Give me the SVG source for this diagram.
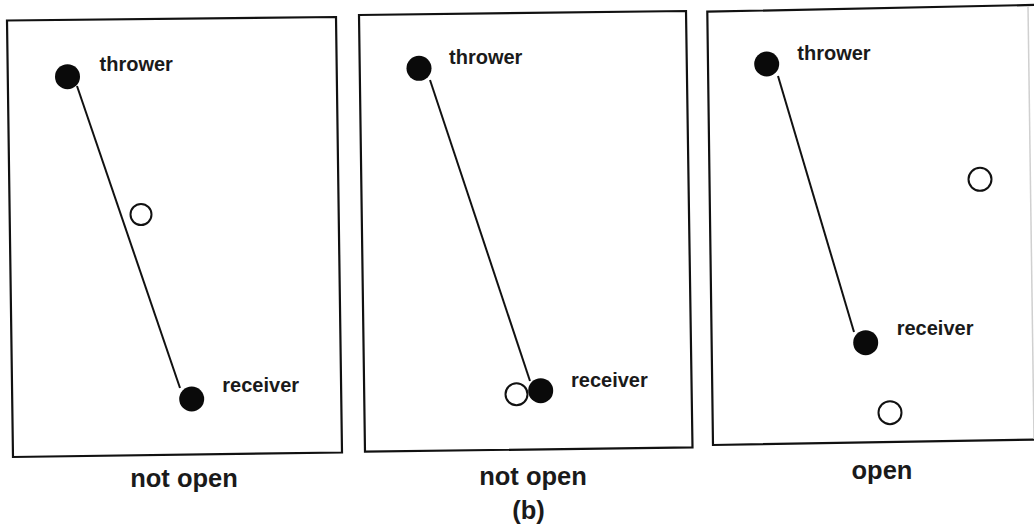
<svg xmlns="http://www.w3.org/2000/svg" width="1034" height="527" viewBox="0 0 1034 527">
<style>
.panel{fill:#fff;stroke:#111;stroke-width:2.2;stroke-linejoin:miter}
.dot{fill:#0a0a0a}
.ring{fill:#fff;stroke:#111;stroke-width:2}
.conn{stroke:#111;stroke-width:2;fill:none}
.lbl{font-family:"Liberation Sans",Arial,sans-serif;font-weight:bold;font-size:20px;fill:#1a1a1a}
.cap{font-family:"Liberation Sans",Arial,sans-serif;font-weight:bold;font-size:25.5px;fill:#1a1a1a;text-anchor:middle}
</style>
<rect width="1034" height="527" fill="#fff"/>
<g id="panel1">
<polygon class="panel" points="7,20.5 336,17 342,452.5 13,457"/>
</g>
<g id="panel2">
<polygon class="panel" points="359,15 686,11 692.5,447.3 365,451.7"/>
</g>
<g id="panel3">
<polyline class="panel" fill="none" points="1040,4.8 707.3,11.7 713,445 1040,439.5"/>
<line x1="1028" y1="6" x2="1034" y2="439" stroke="#d0d0d0" stroke-width="1.5"/>
</g>
<g id="connectors">
<line class="conn" x1="77" y1="86" x2="180" y2="388"/>
<line class="conn" x1="430" y1="80" x2="530" y2="381"/>
<line class="conn" x1="778" y1="76" x2="854" y2="332"/>
</g>
<g id="p1-thrower"><circle class="dot" cx="67.5" cy="76.7" r="12.5"/><text class="lbl" x="99.5" y="70.5">thrower</text></g>
<g id="p1-receiver"><circle class="dot" cx="191.7" cy="399" r="12.5"/><text class="lbl" x="222.3" y="392.3">receiver</text></g>
<g id="p1-defender"><circle class="ring" cx="141" cy="214.5" r="10.5"/></g>
<g id="p2-thrower"><circle class="dot" cx="419" cy="68.3" r="12.5"/><text class="lbl" x="449" y="64">thrower</text></g>
<g id="p2-defender"><circle class="ring" cx="516.5" cy="394.3" r="11"/></g>
<g id="p2-receiver"><circle class="dot" cx="540.7" cy="390.7" r="12.5"/><text class="lbl" x="571" y="386.7">receiver</text></g>
<g id="p3-thrower"><circle class="dot" cx="766.7" cy="64" r="12.5"/><text class="lbl" x="797.3" y="60">thrower</text></g>
<g id="p3-receiver"><circle class="dot" cx="865.7" cy="342.7" r="12.5"/><text class="lbl" x="896.7" y="335">receiver</text></g>
<g id="p3-defender1"><circle class="ring" cx="980" cy="179.3" r="11.5"/></g>
<g id="p3-defender2"><circle class="ring" cx="890" cy="412.7" r="11.5"/></g>
<g id="captions">
<text class="cap" x="184" y="487.3">not open</text>
<text class="cap" x="533" y="485">not open</text>
<text class="cap" x="882" y="479">open</text>
<text class="cap" x="528.5" y="519">(b)</text>
</g>
</svg>
